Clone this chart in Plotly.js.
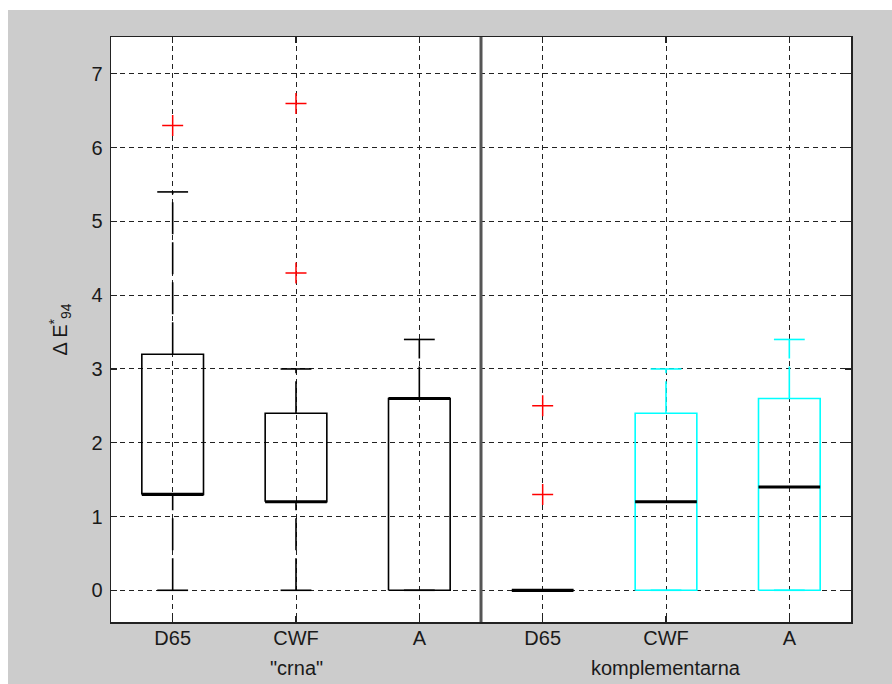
<!DOCTYPE html>
<html>
<head>
<meta charset="utf-8">
<script src="https://cdn.plot.ly/plotly-3.0.1.min.js"></script>
<style>
  html, body { margin: 0; padding: 0; background: #ffffff; overflow: hidden; }
  #chart { position: absolute; left: 8px; top: 10px; width: 884px; height: 674px; }
</style>
</head>
<body>
<div id="chart"></div>
<script>
// ---- data ----
const categories = ['D65', 'CWF', 'A', 'D65', 'CWF', 'A'];
const groupNames = ['"crna"', 'komplementarna'];
const groupSize = 3;
const q1 = [1.3, 1.2, 0.0, 0.0, 0.0, 0.0];
const medians = [1.3, 1.2, 2.6, 0.0, 1.2, 1.4];
const q3 = [3.2, 2.4, 2.6, 0.0, 2.4, 2.6];
const lowerWhisker = [0.0, 0.0, 0.0, 0.0, 0.0, 0.0];
const upperWhisker = [5.4, 3.0, 3.4, 0.0, 3.0, 3.4];
const outliers = [[6.3], [4.3, 6.6], [], [1.3, 2.5], [], []];
const yTicks = [0, 1, 2, 3, 4, 5, 6, 7];

// ---- styles ----
const boxColors = ['#000000', '#000000', '#000000', '#000000', '#00ffff', '#00ffff'];
const BOX_HALF = 0.25, CAP_HALF = 0.125;
const FONT = '"Liberation Sans", Arial, sans-serif';
const TXT = '#1a1a1a';

const positions = categories.map((_, i) => i + 1);
const traces = [];
const base = { type: 'scatter', mode: 'lines', showlegend: false, hoverinfo: 'skip' };

positions.forEach((p, i) => {
  const c = boxColors[i];
  // whiskers (dashed, drawn from lower to higher value)
  traces.push(Object.assign({}, base, {
    x: [p, p], y: [q3[i], upperWhisker[i]],
    line: { color: c, width: 1.6, dash: '32px,8px' }
  }));
  traces.push(Object.assign({}, base, {
    x: [p, p], y: [lowerWhisker[i], q1[i]],
    line: { color: c, width: 1.6, dash: '32px,8px' }
  }));
  // caps
  traces.push(Object.assign({}, base, {
    x: [p - CAP_HALF, p + CAP_HALF, null, p - CAP_HALF, p + CAP_HALF],
    y: [upperWhisker[i], upperWhisker[i], null, lowerWhisker[i], lowerWhisker[i]],
    line: { color: c, width: 1.6 }
  }));
  // box
  traces.push(Object.assign({}, base, {
    x: [p - BOX_HALF, p + BOX_HALF, p + BOX_HALF, p - BOX_HALF, p - BOX_HALF],
    y: [q1[i], q1[i], q3[i], q3[i], q1[i]],
    line: { color: c, width: 1.6 }
  }));
  // median
  traces.push(Object.assign({}, base, {
    x: [p - BOX_HALF, p + BOX_HALF], y: [medians[i], medians[i]],
    line: { color: '#000000', width: 3.2 }
  }));
  // outliers
  if (outliers[i].length) {
    traces.push({
      type: 'scatter', mode: 'markers', showlegend: false, hoverinfo: 'skip',
      x: outliers[i].map(() => p), y: outliers[i],
      marker: { symbol: 'cross-thin-open', size: 15, color: '#ff0000',
                line: { color: '#ff0000', width: 1.5 } }
    });
  }
});

const nGroups = groupNames.length;
const annotations = groupNames.map((g, k) => {
  const members = positions.slice(k * groupSize, (k + 1) * groupSize);
  const mid = members.reduce((a, b) => a + b, 0) / members.length;
  return {
    x: mid, xref: 'x', y: 0, yref: 'paper', yanchor: 'middle', yshift: -46,
    text: g, showarrow: false, font: { family: FONT, size: 20, color: TXT }
  };
});

const shapes = [];
for (let k = 1; k < nGroups; k++) {
  const sep = k * groupSize + 0.5;
  shapes.push({ type: 'line', xref: 'x', yref: 'paper', x0: sep, x1: sep, y0: 0, y1: 1,
                line: { color: '#555555', width: 3 }, layer: 'above' });
}

const layout = {
  width: 884, height: 674,
  margin: { l: 103, r: 41, t: 27, b: 62 },
  paper_bgcolor: '#cccccc', plot_bgcolor: '#ffffff',
  showlegend: false,
  font: { family: FONT, size: 20, color: TXT },
  xaxis: {
    range: [0.5, positions.length + 0.5],
    tickmode: 'array', tickvals: positions, ticktext: categories,
    ticks: 'inside', ticklen: 6, tickwidth: 1.2, tickcolor: '#222',
    showline: true, linecolor: '#222', linewidth: 1.5, mirror: 'ticks',
    showgrid: true, gridcolor: '#222', gridwidth: 1, griddash: '5px,4px',
    zeroline: false, tickfont: { family: FONT, size: 20, color: TXT },
    ticklabelstandoff: -3
  },
  yaxis: {
    range: [-0.43, 7.5],
    tickmode: 'array', tickvals: yTicks,
    ticks: 'inside', ticklen: 6, tickwidth: 1.2, tickcolor: '#222',
    showline: true, linecolor: '#222', linewidth: 1.5, mirror: 'ticks',
    showgrid: true, gridcolor: '#222', gridwidth: 1, griddash: '5px,4px',
    zeroline: false, tickfont: { family: FONT, size: 20, color: TXT },
    ticklabelstandoff: 3,
    title: { text: 'Δ E<sup>*</sup><sub>94</sub>', standoff: 18,
             font: { family: FONT, size: 20, color: TXT } }
  },
  annotations: annotations,
  shapes: shapes
};

Plotly.newPlot('chart', traces, layout, { staticPlot: true, displayModeBar: false });
</script>
</body>
</html>
